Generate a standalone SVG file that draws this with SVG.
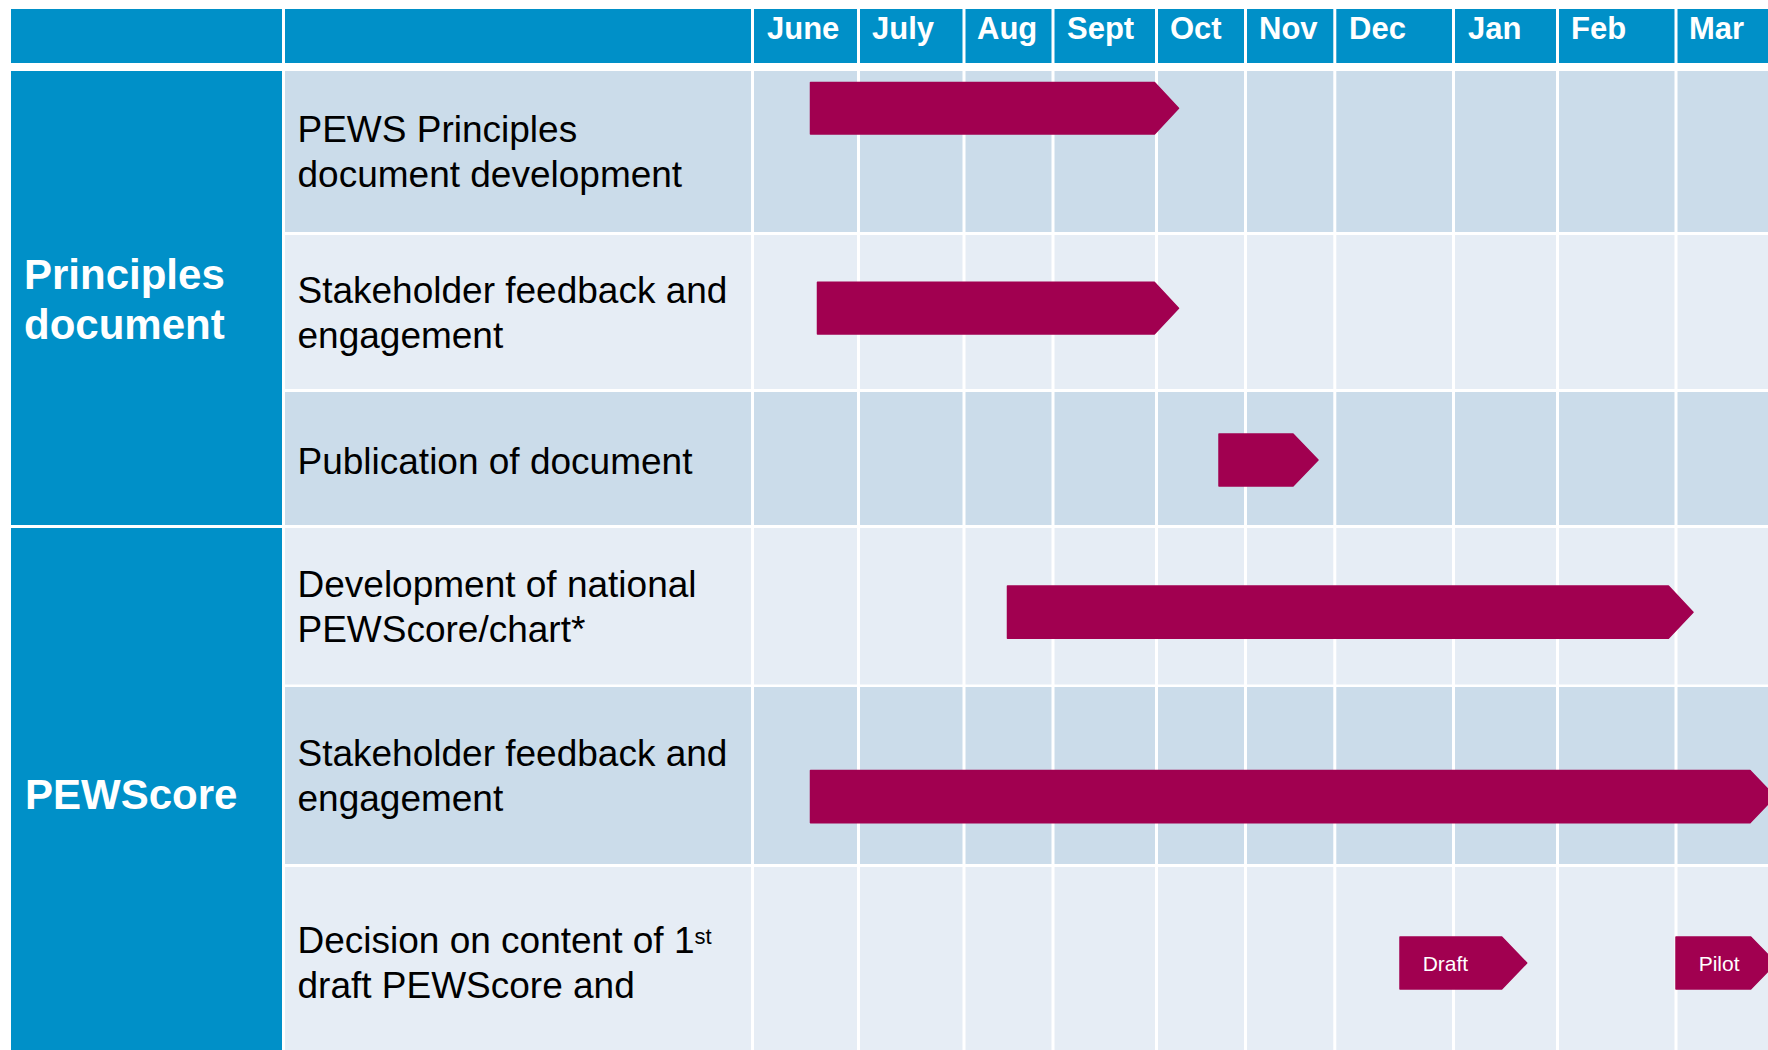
<svg xmlns="http://www.w3.org/2000/svg" width="1768" height="1050" viewBox="0 0 1768 1050">
<style>
.hdr{fill:#0090c8}
.dark{fill:#cbdcea}
.light{fill:#e6edf5}
.sep{stroke:#ffffff;stroke-width:3}
.mon{font-family:"Liberation Sans",Arial,sans-serif;font-weight:bold;font-size:31px;fill:#ffffff}
.grp{font-family:"Liberation Sans",Arial,sans-serif;font-weight:bold;font-size:42px;fill:#ffffff}
.lbl{font-family:"Liberation Sans",Arial,sans-serif;font-size:37px;fill:#000000}
.bar{fill:#a10050;stroke:#a10050;stroke-width:1.5;stroke-linejoin:round}
.btxt{font-family:"Liberation Sans",Arial,sans-serif;font-size:21px;fill:#ffffff}
</style>
<rect width="1768" height="1050" fill="#ffffff"/>

<g id="header">
  <rect class="hdr" x="11" y="9" width="1757" height="54"/>
  <text class="mon" x="767" y="39">June</text>
  <text class="mon" x="872" y="39">July</text>
  <text class="mon" x="977" y="39">Aug</text>
  <text class="mon" x="1067" y="39">Sept</text>
  <text class="mon" x="1170" y="39">Oct</text>
  <text class="mon" x="1259" y="39">Nov</text>
  <text class="mon" x="1349" y="39">Dec</text>
  <text class="mon" x="1468" y="39">Jan</text>
  <text class="mon" x="1571" y="39">Feb</text>
  <text class="mon" x="1689" y="39">Mar</text>
</g>

<g id="rows">
  <rect class="dark" x="284" y="71" width="1484" height="161"/>
  <rect class="light" x="284" y="235" width="1484" height="154"/>
  <rect class="dark" x="284" y="392" width="1484" height="133"/>
  <rect class="light" x="284" y="528" width="1484" height="156.5"/>
  <rect class="dark" x="284" y="687" width="1484" height="177"/>
  <rect class="light" x="284" y="867" width="1484" height="183"/>
</g>

<g id="grid">
  <line class="sep" x1="283.5" y1="9" x2="283.5" y2="1050"/>
  <line class="sep" x1="752.5" y1="9" x2="752.5" y2="1050"/>
  <line class="sep" x1="858.5" y1="9" x2="858.5" y2="1050"/>
  <line class="sep" x1="964" y1="9" x2="964" y2="1050"/>
  <line class="sep" x1="1053" y1="9" x2="1053" y2="1050"/>
  <line class="sep" x1="1156.5" y1="9" x2="1156.5" y2="1050"/>
  <line class="sep" x1="1245.5" y1="9" x2="1245.5" y2="1050"/>
  <line class="sep" x1="1334.8" y1="9" x2="1334.8" y2="1050"/>
  <line class="sep" x1="1453.5" y1="9" x2="1453.5" y2="1050"/>
  <line class="sep" x1="1557.5" y1="9" x2="1557.5" y2="1050"/>
  <line class="sep" x1="1676" y1="9" x2="1676" y2="1050"/>
</g>

<g id="group-principles">
  <rect class="hdr" x="11" y="71" width="271" height="454"/>
  <text class="grp" x="24" y="289">Principles</text>
  <text class="grp" x="24" y="339">document</text>
</g>
<g id="group-pewscore">
  <rect class="hdr" x="11" y="528" width="271" height="522"/>
  <text class="grp" x="25" y="809">PEWScore</text>
</g>

<g id="task-1">
  <text class="lbl" x="297.5" y="141.7">PEWS Principles</text>
  <text class="lbl" x="297.5" y="186.7">document development</text>
  <path class="bar" d="M810.5,82.5 H1154.5 L1178.5,108.3 L1154.5,134 H810.5 Z"/>
</g>
<g id="task-2">
  <text class="lbl" x="297.5" y="303.3">Stakeholder feedback and</text>
  <text class="lbl" x="297.5" y="348">engagement</text>
  <path class="bar" d="M817.5,282.3 H1154.3 L1178.5,308.2 L1154.3,334 H817.5 Z"/>
</g>
<g id="task-3">
  <text class="lbl" x="297.5" y="474">Publication of document</text>
  <path class="bar" d="M1219,434 H1293 L1318,460 L1293,486 H1219 Z"/>
</g>
<g id="task-4">
  <text class="lbl" x="297.5" y="597.3">Development of national</text>
  <text class="lbl" x="297.5" y="641.7">PEWScore/chart*</text>
  <path class="bar" d="M1007.5,586 H1668.4 L1693,612.2 L1668.4,638.3 H1007.5 Z"/>
</g>
<g id="task-5">
  <text class="lbl" x="297.5" y="766">Stakeholder feedback and</text>
  <text class="lbl" x="297.5" y="811">engagement</text>
  <path class="bar" d="M810.5,770.5 H1750 L1775,796.6 L1750,822.7 H810.5 Z"/>
</g>
<g id="task-6">
  <text class="lbl" x="297.5" y="953.3">Decision on content of 1<tspan font-size="22" dy="-9.3">st</tspan></text>
  <text class="lbl" x="297.5" y="997.7">draft PEWScore and</text>
  <g id="milestone-draft">
    <path class="bar" d="M1400,937 H1501.7 L1526.7,963 L1501.7,989 H1400 Z"/>
    <text class="btxt" x="1422.7" y="970.7">Draft</text>
  </g>
  <g id="milestone-pilot">
    <path class="bar" d="M1676,937 H1750.7 L1776,963 L1750.7,989 H1676 Z"/>
    <text class="btxt" x="1698.7" y="970.7">Pilot</text>
  </g>
</g>
</svg>
